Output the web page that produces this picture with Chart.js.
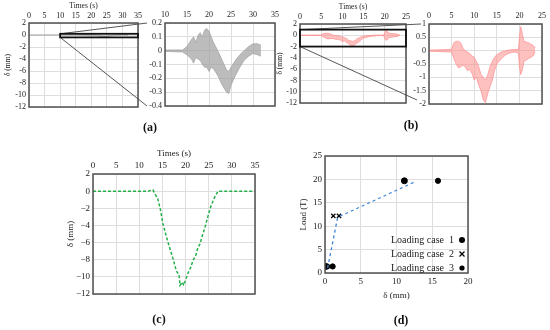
<!DOCTYPE html>
<html><head><meta charset="utf-8">
<script src="https://cdn.jsdelivr.net/npm/chart.js@4"></script>
<style>
html,body{margin:0;padding:0;background:#fff;width:550px;height:330px;overflow:hidden}
canvas{position:absolute;left:0;top:0}
.lbl{position:absolute;font-family:"Liberation Serif",serif;font-size:12px;font-weight:bold;transform:translate(-50%,-50%);color:#111;white-space:nowrap}
</style></head><body>
<canvas id="aR" width="550" height="330"></canvas>
<canvas id="bR" width="550" height="330"></canvas>
<canvas id="aL" width="550" height="330"></canvas>
<canvas id="bL" width="550" height="330"></canvas>
<canvas id="cC" width="550" height="330"></canvas>
<canvas id="dD" width="550" height="330"></canvas>
<div class="lbl" style="left:150px;top:127px">(a)</div>
<div class="lbl" style="left:411px;top:125px">(b)</div>
<div class="lbl" style="left:159px;top:319px">(c)</div>
<div class="lbl" style="left:401px;top:320px">(d)</div>
<script>
// ---------------- data ----------------
// (a) measured deflection: envelope of the dense oscillation (time s, upper / lower mm)
const aTime  = [0, 10, 14, 15, 16, 16.5, 17, 17.5, 18, 18.5, 19, 19.5, 20, 20.5, 21, 22, 23, 24, 24.5, 25, 26, 27, 28, 29, 30, 31, 31.8];
const aUpper = [0, 0.005, 0.005, 0.03, 0.08, 0.1, 0.06, 0.11, 0.13, 0.1, 0.15, 0.16, 0.14, 0.1, 0.06, 0.0, -0.07, -0.14, -0.15, -0.12, -0.07, -0.03, 0.0, 0.03, 0.05, 0.05, 0.04];
const aLower = [0, -0.005, -0.01, -0.03, -0.06, -0.09, -0.05, -0.06, -0.07, -0.1, -0.12, -0.12, -0.15, -0.12, -0.13, -0.18, -0.25, -0.3, -0.31, -0.25, -0.18, -0.12, -0.07, -0.04, -0.02, -0.03, -0.04];
// (b) measured deflection envelope
const bTime  = [0, 5, 5.5, 6, 6.5, 7, 7.5, 8, 8.5, 9, 9.5, 10, 10.5, 11, 11.5, 12, 12.5, 13, 13.5, 14, 14.5, 15, 16, 17, 18, 19, 19.8, 20, 20.3, 20.7, 21, 22, 23, 23.5];
const bUpper = [0.02, 0.05, 0.3, 0.35, 0.35, 0.3, 0.1, 0.0, -0.05, -0.1, -0.2, -0.25, -0.4, -0.6, -0.9, -1.0, -1.1, -0.9, -0.6, -0.4, -0.25, -0.15, -0.05, 0.0, 0.03, 0.04, 0.05, 0.5, 0.9, 0.6, 0.35, 0.3, 0.2, 0.1];
const bLower = [-0.02, -0.05, -0.3, -0.5, -0.65, -0.6, -0.55, -0.6, -0.75, -0.7, -0.85, -1.1, -1.0, -1.3, -1.5, -1.85, -1.95, -1.6, -1.35, -1.1, -0.75, -0.5, -0.3, -0.15, -0.08, -0.05, -0.1, -0.6, -0.9, -0.7, -0.4, -0.3, -0.2, -0.05];
// zoom windows (x range, y range)
const aZoomX = [10, 35], aZoomY = [-0.4, 0.2];
const bZoomX = [0, 25],  bZoomY = [-2, 1];
// (c) simulated deflection
const cTime = [0, 11.9, 12.95, 13.3, 14.0, 14.6, 15.1, 15.8, 16.5, 17.3, 18.0, 18.6, 18.8, 19.3, 19.6, 20.0, 20.5, 21.1, 21.6, 22.2, 22.7, 23.0, 23.2, 23.6, 24.1, 24.8, 25.5, 26.3, 27.0, 35];
const cDisp = [0, 0, 0.15, -0.23, -0.9, -2.26, -3.8, -5.2, -6.5, -7.9, -9.3, -9.8, -11.0, -10.6, -11.0, -10.4, -9.6, -8.9, -8.1, -7.5, -6.5, -6.3, -6.0, -5.2, -4.4, -3.0, -1.7, -0.7, 0, 0];
// (d) load vs deflection
const d1X = [0.05, 11.1],      d1Y = [1.4, 19.7];
const d2X = [1.16, 1.96],      d2Y = [12.2, 12.2];
const d3X = [0.3, 1.07, 15.8], d3Y = [1.4, 1.4, 19.7];
const dFitX = [0.37, 1.77, 12.6], dFitY = [1.1, 11.9, 19.5];
const dLegend = ['Loading case  1', 'Loading case  2', 'Loading case  3'];

// ---------------- helpers ----------------
const W = 550, H = 330;
const SERIF = '"Liberation Serif","DejaVu Serif",serif';
Chart.defaults.font.family = SERIF;
Chart.defaults.color = '#222';
const GRID = '#dedede';
const pts = (xs, ys) => xs.map((x, i) => ({x, y: ys[i]}));
const hy = v => String(Math.round(v * 1000) / 1000);
const mn = v => hy(v).replace('-', '\u2212');

const framePlugin = {
  id: 'frame',
  afterDraw(chart) {
    const a = chart.chartArea, ctx = chart.ctx;
    ctx.save(); ctx.strokeStyle = '#505050'; ctx.lineWidth = 1.5;
    ctx.strokeRect(a.left, a.top, a.right - a.left, a.bottom - a.top);
    ctx.restore();
  }
};

function mk(id, o) {
  const padLeft = o.area.l - o.yW, padRight = W - o.area.r;
  let padTop, padBottom;
  if (o.xPos === 'top') { padTop = o.area.t - o.xH; padBottom = H - o.area.b; }
  else { padTop = o.area.t; padBottom = H - o.area.b - o.xH; }
  const fs = o.fs || 8;
  return new Chart(document.getElementById(id), {
    type: 'line',
    data: {datasets: o.datasets},
    options: {
      responsive: false, animation: false, devicePixelRatio: 1,
      layout: {padding: {left: padLeft, right: padRight, top: padTop, bottom: padBottom}},
      plugins: {legend: {display: false}, tooltip: {enabled: false}},
      scales: {
        x: {
          type: 'linear', position: o.xPos, min: o.xMin, max: o.xMax,
          ticks: {stepSize: o.xStep, autoSkip: false, maxRotation: 0, padding: o.xPad || 3, font: {size: fs}, color: '#222', callback: o.xFmt || hy},
          grid: {color: GRID, drawTicks: false, lineWidth: 1},
          border: {display: false},
          title: {display: !!o.xTitle, text: o.xTitle, font: {size: o.tfs || fs}, padding: 0, color: '#222'},
          afterFit(s) { s.height = o.xH; }
        },
        y: {
          type: 'linear', position: 'left', min: o.yMin, max: o.yMax,
          ticks: {stepSize: o.yStep, autoSkip: false, padding: 3, font: {size: fs}, color: '#222', callback: o.yFmt || hy},
          grid: {color: GRID, drawTicks: false, lineWidth: 1},
          border: {display: false},
          title: {display: !!o.yTitle, text: o.yTitle, font: {size: o.tfs || fs}, padding: 0, color: '#222'},
          afterFit(s) { s.width = o.yW; }
        }
      }
    },
    plugins: [framePlugin].concat(o.plugins || [])
  });
}

function band(tx, up, lo, line, fillc) {
  return [
    {data: pts(tx, up), borderColor: line, borderWidth: 0.7, backgroundColor: fillc, fill: '+1', pointRadius: 0, tension: 0},
    {data: pts(tx, lo), borderColor: line, borderWidth: 0.7, backgroundColor: fillc, fill: false, pointRadius: 0, tension: 0}
  ];
}

function zoomPlugin(zx, zy, target, dxTop, dxBot, dyBot) {
  return {
    id: 'zoomBox',
    afterDraw(chart) {
      const xs = chart.scales.x, ys = chart.scales.y, ctx = chart.ctx;
      const x0 = xs.getPixelForValue(zx[0]), x1 = xs.getPixelForValue(zx[1]);
      const y0 = ys.getPixelForValue(zy[1]), y1 = ys.getPixelForValue(zy[0]);
      const ta = target.chartArea;
      ctx.save();
      ctx.strokeStyle = '#444'; ctx.lineWidth = 0.9;
      ctx.beginPath();
      ctx.moveTo(x0, y0); ctx.lineTo(ta.left - dxTop, ta.top);
      ctx.moveTo(x0, y1); ctx.lineTo(ta.left - dxBot, ta.bottom - dyBot);
      ctx.stroke();
      ctx.strokeStyle = '#111'; ctx.lineWidth = 1.8;
      ctx.strokeRect(x0, y0, x1 - x0, y1 - y0);
      ctx.restore();
    }
  };
}

const GRAY_L = '#a0a0a0', GRAY_F = 'rgba(160,160,160,0.7)';
const RED_L = '#ff8f8f', RED_F = 'rgba(255,140,140,0.55)';

// ---------------- charts ----------------
const chartAR = mk('aR', {
  area: {l: 165, t: 23, r: 275, b: 106}, yW: 25, xH: 13, xPos: 'top',
  xMin: aZoomX[0], xMax: aZoomX[1], xStep: 5, yMin: aZoomY[0], yMax: aZoomY[1], yStep: 0.1,
  datasets: band(aTime, aUpper, aLower, GRAY_L, GRAY_F)
});
const chartBR = mk('bR', {
  area: {l: 429, t: 24, r: 542, b: 104}, yW: 25, xH: 13, xPos: 'top',
  xMin: bZoomX[0], xMax: bZoomX[1], xStep: 5, yMin: bZoomY[0], yMax: bZoomY[1], yStep: 0.5,
  datasets: band(bTime, bUpper, bLower, RED_L, RED_F)
});
mk('aL', {
  area: {l: 29, t: 23, r: 138, b: 107}, yW: 25, xH: 21, xPos: 'top',
  xMin: 0, xMax: 35, xStep: 5, yMin: -12, yMax: 2, yStep: 2, xPad: 2,
  xTitle: 'Times (s)', yTitle: '\u03b4 (mm)', tfs: 7.5,
  datasets: band(aTime, aUpper, aLower, '#aaaaaa', 'rgba(160,160,160,0.6)'),
  plugins: [zoomPlugin(aZoomX, aZoomY, chartAR, 18, 18, 0)]
});
mk('bL', {
  area: {l: 300, t: 24, r: 406, b: 103}, yW: 24, xH: 21, xPos: 'top',
  xMin: 0, xMax: 25, xStep: 5, yMin: -12, yMax: 2, yStep: 2, xPad: 2,
  xTitle: 'Times (s)', yTitle: '\u03b4 (mm)', tfs: 7.5,
  datasets: band(bTime, bUpper, bLower, RED_L, RED_F),
  plugins: [zoomPlugin(bZoomX, bZoomY, chartBR, 8, 12, 4)]
});
mk('cC', {
  area: {l: 93, t: 174, r: 255, b: 294}, yW: 28, xH: 26, xPos: 'top', fs: 9,
  xMin: 0, xMax: 35, xStep: 5, yMin: -12, yMax: 2, yStep: 2, yFmt: mn,
  xTitle: 'Times (s)', yTitle: '\u03b4 (mm)',
  datasets: [{data: pts(cTime, cDisp), borderColor: '#22b04a', borderWidth: 1.5, borderDash: [3, 2], pointRadius: 0, fill: false, tension: 0}]
});

const legendPlugin = {
  id: 'dLegend',
  afterDraw(chart) {
    const a = chart.chartArea, ctx = chart.ctx;
    ctx.save();
    ctx.font = '10px ' + SERIF; ctx.fillStyle = '#222'; ctx.textAlign = 'right'; ctx.textBaseline = 'middle';
    dLegend.forEach((t, i) => {
      const y = a.bottom - 33 + i * 14;
      ctx.fillText(t, a.right - 14, y);
      const mx = a.right - 6;
      ctx.fillStyle = '#000'; ctx.strokeStyle = '#000';
      if (i === 1) {
        ctx.lineWidth = 1.3; ctx.beginPath();
        ctx.moveTo(mx - 2.5, y - 2.5); ctx.lineTo(mx + 2.5, y + 2.5);
        ctx.moveTo(mx + 2.5, y - 2.5); ctx.lineTo(mx - 2.5, y + 2.5); ctx.stroke();
      } else {
        ctx.beginPath(); ctx.arc(mx, y, i === 0 ? 3 : 2.6, 0, Math.PI * 2); ctx.fill();
      }
      ctx.fillStyle = '#222';
    });
    ctx.restore();
  }
};
mk('dD', {
  area: {l: 325, t: 156, r: 468, b: 273}, yW: 27, xH: 28, xPos: 'bottom', fs: 9, tfs: 9,
  xMin: 0, xMax: 20, xStep: 5, yMin: 0, yMax: 25, yStep: 5,
  xTitle: '\u03b4 (mm)', yTitle: 'Load (T)',
  datasets: [
    {data: pts(dFitX, dFitY), borderColor: '#3d85d6', borderWidth: 1.3, borderDash: [3, 3], pointRadius: 0, fill: false, tension: 0},
    {data: pts(d1X, d1Y), showLine: false, pointStyle: 'circle', pointRadius: 3, backgroundColor: '#000', borderColor: '#000'},
    {data: pts(d2X, d2Y), showLine: false, pointStyle: 'crossRot', pointRadius: 3, borderWidth: 1.2, borderColor: '#000'},
    {data: pts(d3X, d3Y), showLine: false, pointStyle: 'circle', pointRadius: 2.6, backgroundColor: '#000', borderColor: '#000'}
  ],
  plugins: [legendPlugin]
});
</script>
</body></html>
